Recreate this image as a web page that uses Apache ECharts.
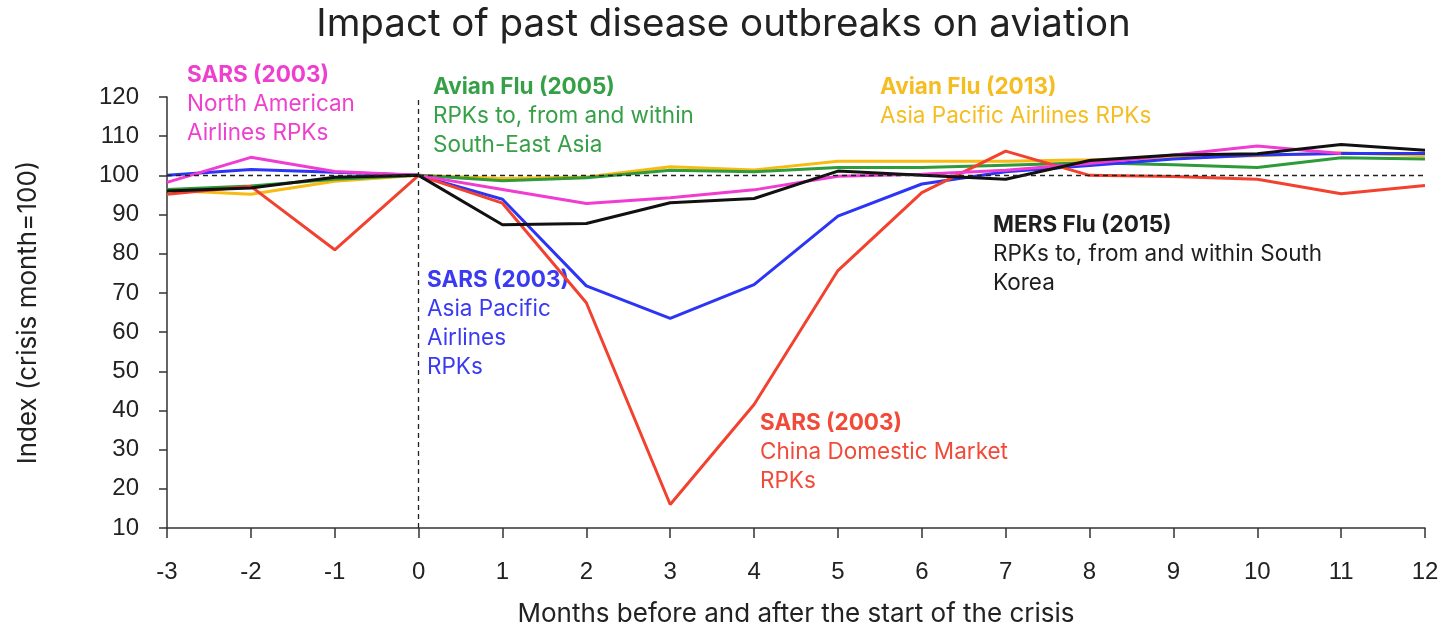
<!DOCTYPE html>
<html>
<head>
<meta charset="utf-8">
<script src="https://cdn.jsdelivr.net/npm/echarts@6/dist/echarts.min.js"></script>
<style>
  html, body { margin: 0; padding: 0; background: #fff; }
  #chart { width: 1447px; height: 630px; }
</style>
</head>
<body>
<div id="chart"></div>
<script>
const months = ["-3", "-2", "-1", "0", "1", "2", "3", "4", "5", "6", "7", "8", "9", "10", "11", "12"];

// index values, crisis month = 100
const avian2013 = [96.2, 95.2, 98.5, 100, 99.2, 99.6, 102.2, 101.4, 103.6, 103.6, 103.6, 104, 104.5, 105, 105.8, 105];
const avian2005 = [96.4, 97.3, 99, 100, 98.6, 99.4, 101.3, 100.9, 102, 102, 102.6, 103.2, 102.7, 102, 104.5, 104.2];
const sarsAsiaPacific = [100, 101.5, 100.8, 100, 93.9, 71.8, 63.5, 72.1, 89.6, 97.8, 100.9, 102.5, 104.2, 105.2, 105.6, 105.6];
const sarsChina = [95.2, 97.2, 81, 100, 92.9, 67.5, 16, 41.5, 75.7, 95.6, 106.2, 100, 99.7, 99, 95.3, 97.4];
const sarsNorthAmerica = [98.2, 104.6, 101, 100, 96.4, 92.8, 94.3, 96.3, 99.8, 100.3, 101.3, 103, 105.2, 107.5, 105.6, null];
const mers2015 = [96, 96.8, 99.5, 100, 87.4, 87.7, 93, 94.1, 101.1, 100, 99, 103.8, 105.2, 105.5, 107.9, 106.4];

const notes = [
  { title: "SARS (2003)", lines: ["North American", "Airlines RPKs"], color: "#ee3fcf", x: 187, y: 61 },
  { title: "Avian Flu (2005)", lines: ["RPKs to, from and within", "South-East Asia"], color: "#35a046", x: 433, y: 73 },
  { title: "Avian Flu (2013)", lines: ["Asia Pacific Airlines RPKs"], color: "#f5bd22", x: 880, y: 73 },
  { title: "SARS (2003)", lines: ["Asia Pacific", "Airlines", "RPKs"], color: "#3a3af2", x: 427, y: 266 },
  { title: "MERS Flu (2015)", lines: ["RPKs to, from and within South", "Korea"], color: "#1e1e1e", x: 993, y: 211 },
  { title: "SARS (2003)", lines: ["China Domestic Market", "RPKs"], color: "#f24a38", x: 760, y: 409 },
];

const chart = echarts.init(document.getElementById("chart"));

const line = (name, data, color) => ({
  name,
  type: "line",
  data,
  symbol: "none",
  lineStyle: { color, width: 3 },
  itemStyle: { color },
});

chart.setOption({
  animation: false,
  title: {
    text: "Impact of past disease outbreaks on aviation",
    left: "center",
    top: 0,
    textStyle: { fontFamily: "Inter", fontSize: 38.5, fontWeight: "normal", color: "#222" },
  },
  grid: { left: 167, right: 22, top: 97, bottom: 102, outerBoundsMode: "none" },
  xAxis: {
    type: "category",
    data: months,
    boundaryGap: false,
    name: "Months before and after the start of the crisis",
    nameLocation: "middle",
    nameGap: 73,
    nameTextStyle: { fontFamily: "Inter", fontSize: 26, color: "#222" },
    axisLine: { lineStyle: { color: "#333", width: 1.5 } },
    axisTick: { alignWithLabel: true, length: 10, lineStyle: { color: "#333", width: 1.5 } },
    axisLabel: { fontFamily: "Liberation Sans", fontSize: 24, color: "#222", margin: 32, interval: 0 },
    splitLine: { show: false },
  },
  yAxis: {
    type: "value",
    min: 10,
    max: 120,
    interval: 10,
    name: "Index (crisis month=100)",
    nameLocation: "middle",
    nameRotate: 90,
    nameGap: 126,
    nameTextStyle: { fontFamily: "Inter", fontSize: 26, color: "#222" },
    axisLine: { show: true, lineStyle: { color: "#333", width: 1.5 } },
    axisTick: { show: true, length: 8, lineStyle: { color: "#333", width: 1.5 } },
    axisLabel: { fontFamily: "Liberation Sans", fontSize: 24, color: "#222", margin: 28 },
    splitLine: { show: false },
  },
  series: [
    line("Avian Flu (2013)", avian2013, "#f7bb14"),
    line("Avian Flu (2005)", avian2005, "#2e9a3a"),
    line("SARS Asia Pacific", sarsAsiaPacific, "#2c34f5"),
    line("SARS China", sarsChina, "#f2412e"),
    line("SARS North America", sarsNorthAmerica, "#f03cd2"),
    {
      ...line("MERS Flu (2015)", mers2015, "#111"),
      markLine: {
        silent: true,
        symbol: "none",
        label: { show: false },
        lineStyle: { color: "#222", type: [5, 4], width: 1.3 },
        data: [{ xAxis: "0" }, { yAxis: 100 }],
      },
    },
  ],
  graphic: notes.map((n) => ({
    type: "text",
    left: n.x,
    top: n.y,
    silent: true,
    style: {
      text: "{t|" + n.title + "}\n" + n.lines.join("\n"),
      fill: n.color,
      font: "22.5px Inter",
      lineHeight: 29,
      rich: { t: { fontWeight: "bold", fontSize: 22.5, fontFamily: "Inter", fill: n.color, lineHeight: 29 } },
    },
  })),
});
</script>
</body>
</html>
